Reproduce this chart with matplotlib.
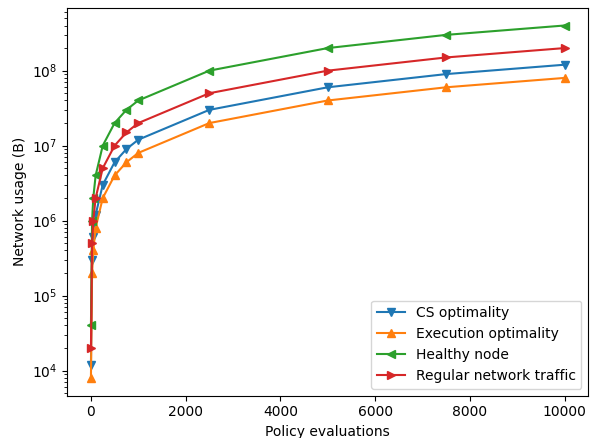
import matplotlib
matplotlib.use('Agg')
import matplotlib.pyplot as plt

evaluations = [1, 25, 50, 100, 250, 500, 750, 1000, 2500, 5000, 7500, 10000]

cs_optimality = [1.2e4, 3e5, 6e5, 1.2e6, 3e6, 6e6, 9e6, 1.2e7, 3e7, 6e7, 9e7, 1.2e8]
execution_optimality = [8e3, 2e5, 4e5, 8e5, 2e6, 4e6, 6e6, 8e6, 2e7, 4e7, 6e7, 8e7]
healthy_node = [4e4, 1e6, 2e6, 4e6, 1e7, 2e7, 3e7, 4e7, 1e8, 2e8, 3e8, 4e8]
regular_traffic = [2e4, 5e5, 1e6, 2e6, 5e6, 1e7, 1.5e7, 2e7, 5e7, 1e8, 1.5e8, 2e8]

fig, ax = plt.subplots(figsize=(5.9, 4.38), dpi=100)
fig.subplots_adjust(left=0.114, right=0.997, top=0.982, bottom=0.097)

ax.plot(evaluations, cs_optimality, marker='v', label='CS optimality')
ax.plot(evaluations, execution_optimality, marker='^', label='Execution optimality')
ax.plot(evaluations, healthy_node, marker='<', label='Healthy node')
ax.plot(evaluations, regular_traffic, marker='>', label='Regular network traffic')

ax.set_yscale('log')
ax.set_xlabel('Policy evaluations')
ax.set_ylabel('Network usage (B)')
ax.legend(loc='lower right')

plt.savefig('out.png', dpi=100)
plt.close()
